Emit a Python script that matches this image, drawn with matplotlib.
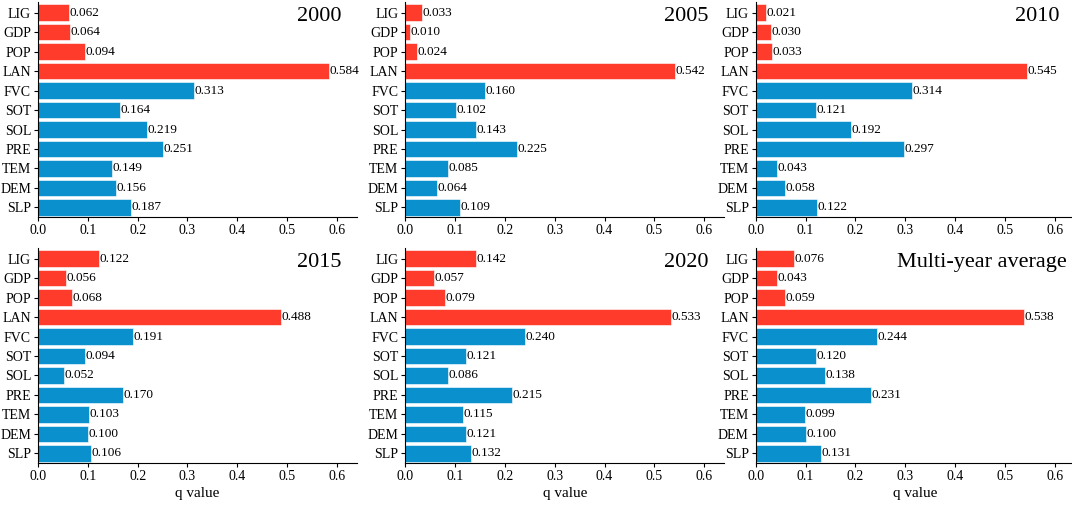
import matplotlib.pyplot as plt
import numpy as np

plt.rcParams['font.family'] = ['Liberation Serif', 'DejaVu Serif']

# factors from top to bottom
factors = ['LIG', 'GDP', 'POP', 'LAN', 'FVC', 'SOT', 'SOL', 'PRE', 'TEM', 'DEM', 'SLP']
panels = ['2000', '2005', '2010', '2015', '2020', 'Multi-year average']

q_2000 = [0.062, 0.064, 0.094, 0.584, 0.313, 0.164, 0.219, 0.251, 0.149, 0.156, 0.187]
q_2005 = [0.033, 0.010, 0.024, 0.542, 0.160, 0.102, 0.143, 0.225, 0.085, 0.064, 0.109]
q_2010 = [0.021, 0.030, 0.033, 0.545, 0.314, 0.121, 0.192, 0.297, 0.043, 0.058, 0.122]
q_2015 = [0.122, 0.056, 0.068, 0.488, 0.191, 0.094, 0.052, 0.170, 0.103, 0.100, 0.106]
q_2020 = [0.142, 0.057, 0.079, 0.533, 0.240, 0.121, 0.086, 0.215, 0.115, 0.121, 0.132]
q_avg = [0.076, 0.043, 0.059, 0.538, 0.244, 0.120, 0.138, 0.231, 0.099, 0.100, 0.131]
all_q = [q_2000, q_2005, q_2010, q_2015, q_2020, q_avg]

# human factors in red, natural ones in blue
human = ['LIG', 'GDP', 'POP', 'LAN']
red = '#ff3b2b'
blue = '#0a90cc'
colors = [red if f in human else blue for f in factors]

fig = plt.figure(figsize=(10.72, 5.05), dpi=100)

lefts = [0.0354, 0.378, 0.705]
bottoms = [0.570, 0.083]
w, h = 0.2976, 0.426

ypos = np.arange(len(factors))[::-1]

for i, (name, q) in enumerate(zip(panels, all_q)):
    row, col = divmod(i, 3)
    ax = fig.add_axes([lefts[col], bottoms[row], w, h])
    ax.barh(ypos, q, height=0.85, color=colors, edgecolor='white', linewidth=0.4)
    for y, v in zip(ypos, q):
        ax.text(v + 0.001, y, '%.3f' % v, va='center', ha='left', fontsize=9.5)
    ax.set_yticks(ypos)
    ax.set_yticklabels(factors, fontsize=10)
    ax.set_ylim(-0.5, 10.55)
    ax.set_xlim(0, 0.64)
    ax.set_xticks([0, 0.1, 0.2, 0.3, 0.4, 0.5, 0.6])
    ax.set_xticklabels(['0.0', '0.1', '0.2', '0.3', '0.4', '0.5', '0.6'], fontsize=10)
    ax.spines['top'].set_visible(False)
    ax.spines['right'].set_visible(False)
    ax.tick_params(axis='both', length=3, pad=2)
    tx = 0.975 if name.startswith('Multi') else 0.952
    ax.text(tx, 0.975, name, transform=ax.transAxes, ha='right', va='top', fontsize=16)
    if row == 1:
        ax.set_xlabel('q value', fontsize=11, labelpad=3)

plt.savefig('out.png', dpi=100)
